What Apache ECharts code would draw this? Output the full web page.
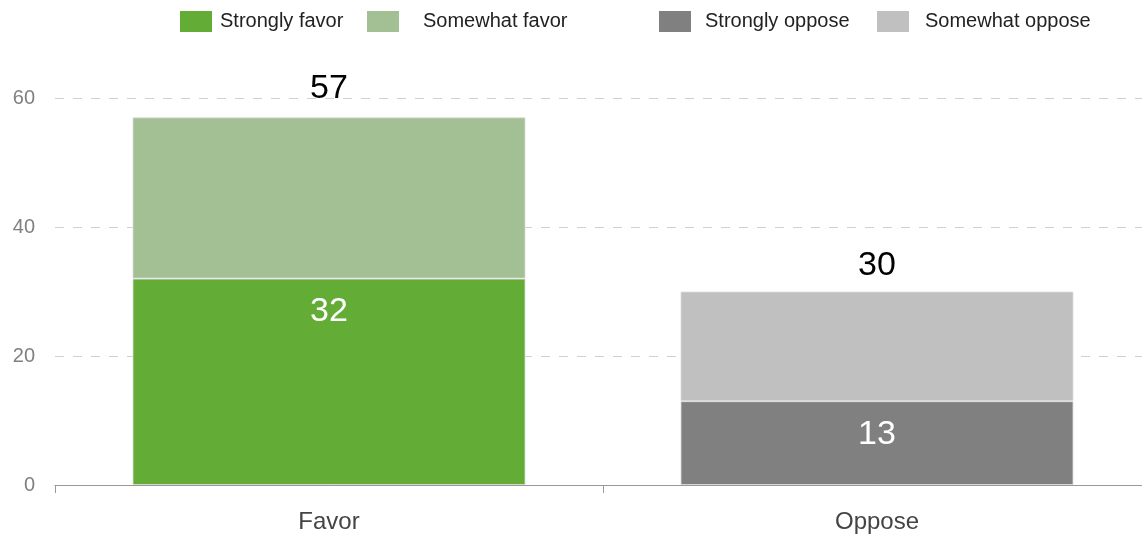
<!DOCTYPE html>
<html>
<head>
<meta charset="utf-8">
<script src="https://cdn.jsdelivr.net/npm/echarts@6/dist/echarts.min.js"></script>
<style>html,body{margin:0;padding:0;background:#fff;overflow:hidden;width:1142px;height:535px}#c{width:1151px;height:535px}</style>
</head>
<body>
<div id="c"></div>
<script>
var categories = ['Favor', 'Oppose'];
var strongly = [32, 13];
var somewhat = [25, 17];
var totals = [57, 30];
var seriesNames = ['Strongly favor', 'Somewhat favor', 'Strongly oppose', 'Somewhat oppose'];
var yTicks = [0, 20, 40, 60];

var FONT = 'Liberation Sans, Arial, sans-serif';
var cStrongFav = '#63ad37', cSomeFav = '#a3bf94', cStrongOpp = '#808080', cSomeOpp = '#c0c0c0';

var chart = echarts.init(document.getElementById('c'));

function legendAt(name, left, pad, color) {
  return {
    data: [{name: name, itemStyle: {color: color, borderWidth: 0}}],
    left: left, top: 11, padding: 0, itemWidth: 32, itemHeight: 21, icon: 'rect',
    selectedMode: false,
    textStyle: {fontFamily: FONT, fontSize: 20, color: '#222', padding: [0, 0, 0, pad]}
  };
}

var strongData = strongly.map(function (v, i) {
  return {value: v, itemStyle: {color: i === 0 ? cStrongFav : cStrongOpp}};
});
var someData = somewhat.map(function (v, i) {
  return {value: v, itemStyle: {color: i === 0 ? cSomeFav : cSomeOpp}};
});

chart.setOption({
  animation: false,
  legend: [
    legendAt(seriesNames[0], 180, 3, cStrongFav),
    legendAt(seriesNames[1], 367, 19, cSomeFav),
    legendAt(seriesNames[2], 659, 9, cStrongOpp),
    legendAt(seriesNames[3], 877, 11, cSomeOpp)
  ],
  grid: {left: 55, top: 98, bottom: 50, right: 0, containLabel: false},
  xAxis: {
    type: 'category', data: categories,
    axisLine: {lineStyle: {color: '#999', width: 1}},
    axisTick: {show: true, length: 8, lineStyle: {color: '#999'}},
    axisLabel: {fontFamily: FONT, fontSize: 24, color: '#444', margin: 25}
  },
  yAxis: {
    type: 'value', min: yTicks[0], max: yTicks[yTicks.length - 1], interval: 20,
    axisLine: {show: false}, axisTick: {show: false},
    axisLabel: {fontFamily: FONT, fontSize: 20, color: '#808080', margin: 20},
    splitLine: {lineStyle: {color: '#d0d0d0', type: [9, 9], width: 1}}
  },
  series: [
    {
      name: seriesNames[0], type: 'bar', stack: 's', barWidth: 393,
      data: [strongData[0], {value: '-'}],
      itemStyle: {borderColor: 'rgba(220,220,220,0.8)', borderWidth: 1},
      label: {show: true, position: 'insideTop', distance: 16, color: '#fff', fontFamily: FONT, fontSize: 34}
    },
    {
      name: seriesNames[1], type: 'bar', stack: 's', barWidth: 393,
      data: [someData[0], {value: '-'}],
      itemStyle: {borderColor: 'rgba(220,220,220,0.8)', borderWidth: 1},
      label: {show: true, position: 'top', distance: 12, color: '#000', fontFamily: FONT, fontSize: 34,
        formatter: function (p) { return totals[p.dataIndex]; }}
    },
    {
      name: seriesNames[2], type: 'bar', stack: 's', barWidth: 393,
      data: [{value: '-'}, strongData[1]],
      itemStyle: {borderColor: 'rgba(220,220,220,0.8)', borderWidth: 1},
      label: {show: true, position: 'insideTop', distance: 16, color: '#fff', fontFamily: FONT, fontSize: 34}
    },
    {
      name: seriesNames[3], type: 'bar', stack: 's', barWidth: 393,
      data: [{value: '-'}, someData[1]],
      itemStyle: {borderColor: 'rgba(220,220,220,0.8)', borderWidth: 1},
      label: {show: true, position: 'top', distance: 9, color: '#000', fontFamily: FONT, fontSize: 34,
        formatter: function (p) { return totals[p.dataIndex]; }}
    }
  ]
});
</script>
</body>
</html>
